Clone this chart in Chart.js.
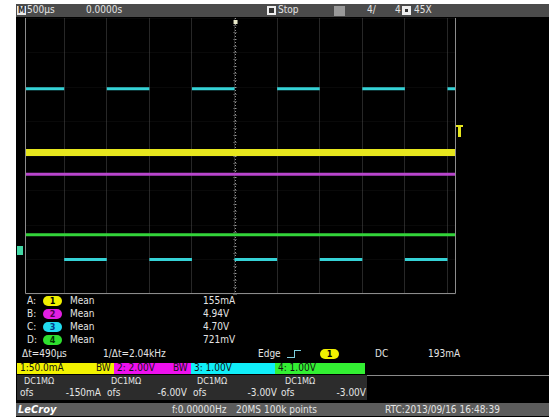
<!DOCTYPE html>
<html>
<head>
<meta charset="utf-8">
<script src="https://cdn.jsdelivr.net/npm/chart.js@4.4.1/dist/chart.umd.min.js"></script>
<style>
  html, body { margin: 0; padding: 0; background: #fff; width: 549px; height: 419px; overflow: hidden; }
  #screen { position: absolute; left: 16px; top: 4px; width: 533px; height: 413px; background: #000; }
  #topbar { position: absolute; left: 16px; top: 4px; width: 533px; height: 13px; background: #4b4b4b; }
  #plot { position: absolute; left: 24px; top: 17px; }
  .t { position: absolute; font-family: "DejaVu Sans Condensed", "DejaVu Sans", sans-serif; font-size: 10px;
       line-height: 12px; color: #e4e4e4; white-space: pre; }
  .badge { position: absolute; width: 19px; height: 10px; border-radius: 5px; text-align: center;
           font-family: "DejaVu Sans Condensed", "DejaVu Sans", sans-serif; font-size: 9px; line-height: 10px;
           font-weight: bold; color: #000; }
  .box { position: absolute; }
</style>
</head>
<body>
<div id="screen"></div>
<div id="topbar"></div>
<canvas id="plot" width="433" height="278"></canvas>
<div id="ui"></div>
<script>
// Timebase: 500 µs per division, record shown around the trigger at t = 0
const gridTimes = [-2000, -1500, -1000, -500, 0, 500, 1000, 1500, 2000, 2500]; // µs
const viewMin = -2460;   // µs
const viewMax = 2600;    // µs

// Vertical settings per channel: scale per division and offset
const chNames  = ["1", "2", "3", "4"];
const chColors = ["#e6e61e", "#b845cc", "#35d2d6", "#33d43a"];
const chScale  = [0.05, 2.00, 1.00, 1.00];    // A/div, V/div, V/div, V/div
const chOffset = [-0.150, -6.00, -3.00, -3.00];

// Channel 1 (current), channel 2 and channel 4: steady levels across the sweep
const sweepTimes = [viewMin, viewMax];
const ch1Values = [0.155, 0.155];  // A
const ch2Values = [4.94, 4.94];    // V
const ch4Values = [0.721, 0.721];  // V

// Channel 3: square wave, one entry per flat segment
const ch3Start = [-2460, -2000, -1500, -1000, -500, 0, 500, 1000, 1500, 2000, 2500];
const ch3End   = [-2000, -1500, -1000, -500, 0, 500, 1000, 1500, 2000, 2500, 2600];
const ch3Level = [4.95, 0.00, 4.95, 0.00, 4.95, 0.00, 4.95, 0.00, 4.95, 0.00, 4.95];

// Trigger level on channel 1
const triggerLevel = 0.193; // A

// Readouts
const measLetters = ["A", "B", "C", "D"];
const measValues  = ["155mA", "4.94V", "4.70V", "721mV"];
const chSettings  = ["1:50.0mA", "2: 2.00V", "3: 1.00V", "4: 1.00V"];
const chBW        = ["BW", "BW", "", ""];
const chCoupling  = ["DC1MΩ", "DC1MΩ", "DC1MΩ", "DC1MΩ"];
const chOfsText   = ["-150mA", "-6.00V", "-3.00V", "-3.00V"];

const toDiv = (v, ch) => (v + chOffset[ch]) / chScale[ch];

function flatSeries(values, ch) {
  return sweepTimes.map((t, i) => ({ x: t, y: toDiv(values[i], ch) }));
}
function squareSeries(ch) {
  const pts = [];
  ch3Start.forEach((s, i) => {
    pts.push({ x: s, y: toDiv(ch3Level[i], ch) });
    pts.push({ x: ch3End[i], y: toDiv(ch3Level[i], ch) });
    pts.push({ x: ch3End[i], y: null });
  });
  return pts;
}

// Frame, centre cursor and trigger markers
const scopeDecor = {
  id: "scopeDecor",
  beforeDatasetsDraw(chart) {
    const { ctx, chartArea: a, scales } = chart;
    const x0 = scales.x.getPixelForValue(0);
    ctx.save();
    ctx.strokeStyle = "rgba(205,205,205,0.7)";
    ctx.setLineDash([1, 2]);
    ctx.lineWidth = 1;
    ctx.beginPath();
    ctx.moveTo(Math.round(x0) + 0.5, a.top);
    ctx.lineTo(Math.round(x0) + 0.5, a.bottom);
    ctx.stroke();
    ctx.setLineDash([]);
    // short graticule ticks on the centre line
    ctx.strokeStyle = "rgba(170,170,170,0.4)";
    for (let d = -4; d <= 4; d += 0.2) {
      const y = Math.round(scales.y.getPixelForValue(d)) + 0.5;
      ctx.beginPath();
      ctx.moveTo(x0 - 1.5, y);
      ctx.lineTo(x0 + 2.5, y);
      ctx.stroke();
    }
    ctx.restore();
  },
  afterDatasetsDraw(chart) {
    const { ctx, chartArea: a, scales } = chart;
    ctx.save();
    ctx.strokeStyle = "#8c8c8c";
    ctx.lineWidth = 1;
    ctx.beginPath();
    ctx.moveTo(a.left + 0.5, a.top);
    ctx.lineTo(a.left + 0.5, a.bottom - 0.5);
    ctx.lineTo(a.right - 0.5, a.bottom - 0.5);
    ctx.lineTo(a.right - 0.5, a.top);
    ctx.stroke();
    // trigger time marker
    const x0 = scales.x.getPixelForValue(0);
    ctx.fillStyle = "#e8e8c8";
    ctx.fillRect(x0 - 1, a.top + 2, 4, 4);
    ctx.restore();
  }
};

const chart = new Chart(document.getElementById("plot"), {
  type: "line",
  data: {
    datasets: [
      { data: flatSeries(ch1Values, 0), borderColor: chColors[0], borderWidth: 7 },
      { data: flatSeries(ch2Values, 1), borderColor: chColors[1], borderWidth: 3 },
      { data: squareSeries(2), borderColor: chColors[2], borderWidth: 3, spanGaps: false },
      { data: flatSeries(ch4Values, 3), borderColor: chColors[3], borderWidth: 3 }
    ]
  },
  options: {
    responsive: false,
    animation: false,
    devicePixelRatio: 1,
    layout: { padding: 1 },
    elements: { point: { radius: 0 }, line: { tension: 0, borderCapStyle: "butt" } },
    plugins: { legend: { display: false }, tooltip: { enabled: false } },
    scales: {
      x: {
        type: "linear", min: viewMin, max: viewMax,
        afterBuildTicks: s => { s.ticks = gridTimes.map(v => ({ value: v })); },
        ticks: { display: false },
        grid: { color: "rgba(150,150,150,0.26)", drawTicks: false },
        border: { display: false }
      },
      y: {
        type: "linear", min: -4, max: 4,
        ticks: { display: false, stepSize: 1 },
        grid: { color: "rgba(120,120,120,0.08)", drawTicks: false },
        border: { display: false }
      }
    }
  },
  plugins: [scopeDecor]
});

// ---- readout panels ----
const ui = document.getElementById("ui");
function txt(s, left, top, extra) {
  const d = document.createElement("div");
  d.className = "t";
  d.textContent = s;
  d.style.left = left + "px";
  d.style.top = top + "px";
  if (extra) Object.assign(d.style, extra);
  ui.appendChild(d);
  return d;
}
function box(left, top, w, h, bg, extra) {
  const d = document.createElement("div");
  d.className = "box";
  Object.assign(d.style, { left: left + "px", top: top + "px", width: w + "px", height: h + "px", background: bg });
  if (extra) Object.assign(d.style, extra);
  ui.appendChild(d);
  return d;
}
function badge(label, left, top, bg, fg) {
  const d = document.createElement("div");
  d.className = "badge";
  d.textContent = label;
  Object.assign(d.style, { left: left + "px", top: top + "px", background: bg, color: fg || "#000" });
  ui.appendChild(d);
}

// top status bar
box(17, 6, 9, 9, "#e8e8e8");
txt("M", 18, 5, { color: "#333", fontSize: "8px", fontWeight: "bold" });
txt("500µs", 27, 4);
txt("0.0000s", 86, 4);
box(267, 6, 9, 9, "#eee", { boxSizing: "border-box", border: "2px solid #eee", background: "#333" });
txt("Stop", 278, 4);
box(334, 6, 11, 10, "#9a9a9a");
txt("4/", 367, 4);
txt("4", 395, 4);
box(402, 6, 9, 9, "#eee");
box(405, 9, 3, 3, "#333");
txt("45X", 414, 4);

// markers at the graticule edges
box(17, 246, 6, 9, "#43d9a6");
const trigY = chart.scales.y.getPixelForValue(toDiv(triggerLevel, 0)) + 17;
box(458, trigY - 1, 3, 12, chColors[0]);
box(456, trigY - 1, 7, 2, chColors[0]);

// measurement rows
const badgeBg = ["#f0f000", "#e21fe2", "#22dcf0", "#2fe02f"];
const badgeFg = ["#000", "#4a004a", "#003a8a", "#003300"];
measLetters.forEach((m, i) => {
  const top = 295 + i * 13;
  txt(m + ":", 27, top);
  badge(chNames[i], 43, top + 1, badgeBg[i], badgeFg[i]);
  txt("Mean", 70, top);
  txt(measValues[i], 203, top);
});

// cursor / trigger row
txt("Δt=490µs", 22, 348);
txt("1/Δt=2.04kHz", 103, 348);
txt("Edge", 258, 348);
box(287, 357, 8, 1, "#7fd0e0");
box(294, 350, 1, 8, "#7fd0e0");
box(294, 350, 7, 1, "#7fd0e0");
badge("1", 320, 349, "#f0f000", "#000");
txt("DC", 375, 348);
txt("193mA", 428, 348);

// channel setting bar
const barLeft = [17, 114, 191, 275];
const barWidth = [97, 77, 84, 90];
const barBg = ["#f2f200", "#ee10ee", "#10eef8", "#33f033"];
chSettings.forEach((s, i) => {
  box(barLeft[i], 363, barWidth[i], 11, barBg[i]);
  txt(s, barLeft[i] + 3, 362, { color: "#111" });
  if (chBW[i]) txt(chBW[i], barLeft[i] + barWidth[i] - 18, 362, { color: "#111" });
});

// coupling / offset block
box(17, 375, 350, 25, "#2c2c2c");
box(367, 375, 182, 1, "#8a8a8a");
const colLeft = [17, 104, 190, 278];
const colRight = [101, 187, 277, 366];
chCoupling.forEach((c, i) => {
  txt(c, colLeft[i] + 7, 375, { fontSize: "9px" });
  txt("ofs", colLeft[i] + 3, 387);
  const v = txt(chOfsText[i], 0, 387);
  v.style.left = "auto";
  v.style.right = (549 - colRight[i]) + "px";
});

// bottom information bar
box(16, 403, 533, 13, "#5c5c5c");
txt("LeCroy", 18, 404, { fontStyle: "italic", fontWeight: "bold", color: "#fff", fontSize: "11px" });
txt("f:0.00000Hz", 172, 404);
txt("20MS", 236, 404);
txt("100k points", 264, 404);
txt("RTC:2013/09/16 16:48:39", 385, 404);
</script>
</body>
</html>
